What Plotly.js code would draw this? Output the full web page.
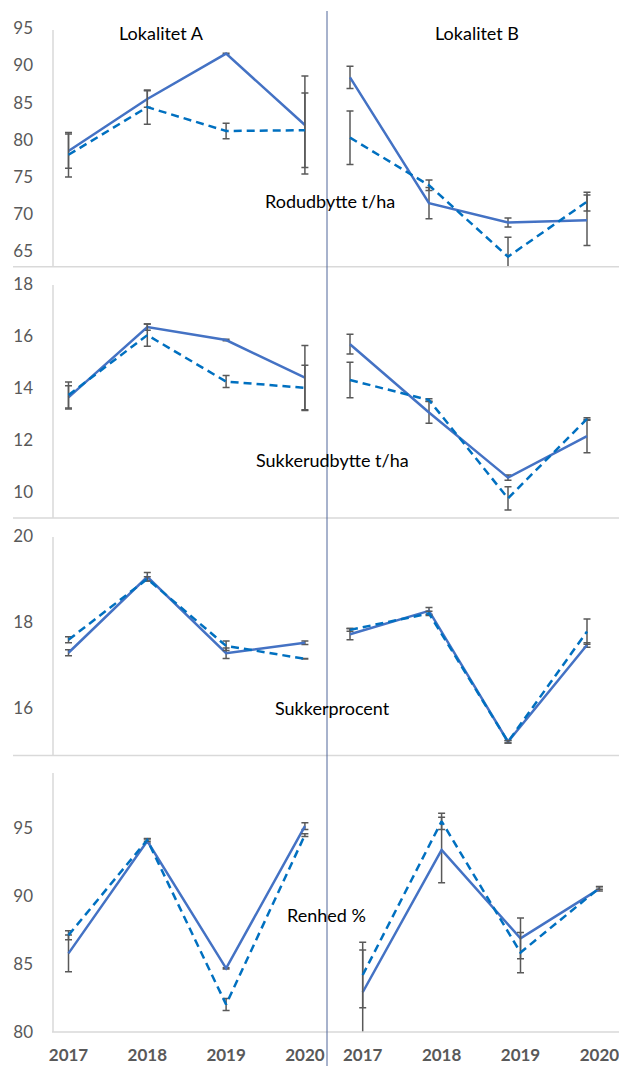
<!DOCTYPE html>
<html>
<head>
<meta charset="utf-8">
<script src="https://cdn.plot.ly/plotly-3.0.1.min.js"></script>
<style>html,body{margin:0;padding:0;background:#fff;}#chart{width:619px;height:1066px;}</style>
</head>
<body>
<div id="chart"></div>
<script>
// ---- data ----
const years = ['2017', '2018', '2019', '2020'];
const sites = ['Lokalitet A', 'Lokalitet B'];
const panelTitles = ['Rodudbytte t/ha', 'Sukkerudbytte t/ha', 'Sukkerprocent', 'Renhed %'];

// Rodudbytte t/ha
const rodA_solid = [78.5, 85.5, 91.6, 82.0];
const rodA_solidErr = [2.3, 1.1, 0.05, 6.6];
const rodA_dash = [78.0, 84.4, 81.2, 81.3];
const rodA_dashErr = [3.0, 2.3, 1.05, 5.0];
const rodB_solid = [88.4, 71.5, 68.9, 69.2];
const rodB_solidErr = [1.5, 2.1, 0.6, 3.4];
const rodB_dash = [80.3, 73.9, 64.3, 71.7];
const rodB_dashErr = [3.6, 0.7, 2.6, 1.25];

// Sukkerudbytte t/ha
const sukA_solid = [13.63, 16.34, 15.84, 14.39];
const sukA_solidErr = [0.45, 0.12, 0.03, 1.24];
const sukA_dash = [13.72, 16.03, 14.24, 14.0];
const sukA_dashErr = [0.5, 0.43, 0.23, 0.87];
const sukB_solid = [15.68, 13.05, 10.54, 12.14];
const sukB_solidErr = [0.38, 0.42, 0.1, 0.64];
const sukB_dash = [14.3, 13.53, 9.74, 12.8];
const sukB_dashErr = [0.68, 0.05, 0.45, 0.05];

// Sukkerprocent
const pctA_solid = [17.29, 19.05, 17.28, 17.52];
const pctA_solidErr = [0.07, 0.1, 0.12, 0.04];
const pctA_dash = [17.59, 19.0, 17.45, 17.15];
const pctA_dashErr = [0.07, 0.05, 0.11, 0.005];
const pctB_solid = [17.72, 18.26, 15.23, 17.47];
const pctB_solidErr = [0.13, 0.08, 0.03, 0.05];
const pctB_dash = [17.82, 18.2, 15.23, 17.78];
const pctB_dashErr = [0.03, 0.05, 0.03, 0.29];

// Renhed %
const renA_solid = [85.76, 94.02, 84.66, 95.12];
const renA_solidErr = [1.35, 0.15, 0.05, 0.25];
const renA_dash = [87.1, 94.1, 82.0, 94.46];
const renA_dashErr = [0.33, 0.1, 0.45, 0.1];
const renB_solid = [82.9, 93.36, 86.86, 90.5];
const renB_solidErr = [3.1, 2.4, 1.5, 0.15];
const renB_dash = [84.17, 95.47, 85.82, 90.57];
const renB_dashErr = [2.4, 0.6, 1.48, 0.1];

const yTicks = [[65, 70, 75, 80, 85, 90, 95], [10, 12, 14, 16, 18], [16, 18, 20], [80, 85, 90, 95]];

// ---- layout helpers ----
const W = 619, H = 1066;
const xIdx = [0, 1, 2, 3];
const SOLID = '#4472C4', DASH = '#0070C0', ERR = '#595959', GRID = '#d9d9d9';

// panel pixel geometry: [top, bottom, calibration value, calibration y px, px per unit]
const panels = [
  {top: 20, bottom: 266.7, v0: 95, y0: 28.3, ppu: 7.44},
  {top: 270, bottom: 517, v0: 18, y0: 284, ppu: 25.95},
  {top: 520, bottom: 755, v0: 20, y0: 535.7, ppu: 43.2},
  {top: 760, bottom: 1032, v0: 95, y0: 827.7, ppu: 13.6}
];
function yRange(p) {
  return [p.v0 - (p.bottom - p.y0) / p.ppu, p.v0 - (p.top - p.y0) / p.ppu];
}
function xRange(left, right, x0, step) {
  return [(left - x0) / step, (right - x0) / step];
}

const series = [
  [[rodA_solid, rodA_solidErr, rodA_dash, rodA_dashErr], [rodB_solid, rodB_solidErr, rodB_dash, rodB_dashErr]],
  [[sukA_solid, sukA_solidErr, sukA_dash, sukA_dashErr], [sukB_solid, sukB_solidErr, sukB_dash, sukB_dashErr]],
  [[pctA_solid, pctA_solidErr, pctA_dash, pctA_dashErr], [pctB_solid, pctB_solidErr, pctB_dash, pctB_dashErr]],
  [[renA_solid, renA_solidErr, renA_dash, renA_dashErr], [renB_solid, renB_solidErr, renB_dash, renB_dashErr]]
];

const traces = [];
const layout = {
  width: W, height: H,
  margin: {l: 0, r: 0, t: 0, b: 0},
  paper_bgcolor: '#fff', plot_bgcolor: 'rgba(0,0,0,0)',
  showlegend: false,
  font: {family: 'Lato, "Open Sans", sans-serif', color: '#000'},
  shapes: [], annotations: []
};

let n = 0;
panels.forEach((p, pi) => {
  [0, 1].forEach(si => {
    n++;
    const xa = 'x' + (n === 1 ? '' : n), ya = 'y' + (n === 1 ? '' : n);
    const xk = 'xaxis' + (n === 1 ? '' : n), yk = 'yaxis' + (n === 1 ? '' : n);
    let xr, dom;
    if (si === 0) { dom = [53, 327]; xr = xRange(53, 327, 68.5, 78.8); }
    else if (pi < 3) { dom = [327, 619]; xr = xRange(327, 619, 350, 79); }
    else { dom = [327, 619]; xr = xRange(327, 619, 362.7, 78.9); }
    const bottomPanel = pi === 3;
    layout[xk] = {
      domain: [dom[0] / W, dom[1] / W], range: xr, anchor: ya,
      showgrid: false, zeroline: false, showline: false,
      tickvals: xIdx, ticktext: years, ticks: '', ticklen: 0,
      showticklabels: bottomPanel, ticklabelstandoff: 11,
      ticklabeloverflow: 'allow',
      tickfont: {family: 'Lato, sans-serif', size: 17, color: '#595959', weight: 'bold'},
      fixedrange: true
    };
    layout[yk] = {
      domain: [1 - p.bottom / H, 1 - p.top / H], range: yRange(p), anchor: xa,
      showgrid: false, zeroline: false, showline: false,
      tickvals: yTicks[pi], ticks: '', showticklabels: si === 0,
      ticklabelstandoff: 19,
      tickfont: {family: 'Lato, sans-serif', size: 17, color: '#595959'},
      fixedrange: true
    };
    const d = series[pi][si];
    traces.push({
      x: xIdx, y: d[0], xaxis: xa, yaxis: ya, type: 'scatter', mode: 'lines',
      line: {color: SOLID, width: 2.5},
      error_y: {type: 'data', array: d[1], visible: true, color: ERR, thickness: 1.5, width: 3.5},
      hoverinfo: 'skip'
    });
    traces.push({
      x: xIdx, y: d[2], xaxis: xa, yaxis: ya, type: 'scatter', mode: 'lines',
      line: {color: DASH, width: 2.5, dash: '8px,5px'},
      error_y: {type: 'data', array: d[3], visible: true, color: ERR, thickness: 1.5, width: 3.5},
      hoverinfo: 'skip'
    });
  });
});

// frame lines (light gray axis lines from the pasted Excel charts)
const hLines = [[13, 619, 266.7], [13, 619, 518], [13, 619, 755.5], [52, 619, 1032]];
hLines.forEach(l => layout.shapes.push({type: 'line', xref: 'paper', yref: 'paper',
  x0: l[0] / W, x1: l[1] / W, y0: 1 - l[2] / H, y1: 1 - l[2] / H, line: {color: GRID, width: 1.5}}));
const vLines = [[30, 266.7], [285, 518], [537, 755.5], [773, 1032]];
vLines.forEach(l => layout.shapes.push({type: 'line', xref: 'paper', yref: 'paper',
  x0: 53 / W, x1: 53 / W, y0: 1 - l[0] / H, y1: 1 - l[1] / H, line: {color: GRID, width: 1.5}}));
// divider between the localities
layout.shapes.push({type: 'line', xref: 'paper', yref: 'paper',
  x0: 327 / W, x1: 327 / W, y0: 1 - 11 / H, y1: 0, line: {color: '#50679a', width: 1}});

// text
layout.annotations.push({text: sites[0], xref: 'paper', yref: 'paper', x: 161 / W, y: 1 - 33 / H,
  showarrow: false, xanchor: 'center', yanchor: 'middle', font: {size: 18, color: '#000'}});
layout.annotations.push({text: sites[1], xref: 'paper', yref: 'paper', x: 477 / W, y: 1 - 33 / H,
  showarrow: false, xanchor: 'center', yanchor: 'middle', font: {size: 18, color: '#000'}});
const titlePos = [[330, 201], [333, 460], [332, 708], [326, 915]];
panelTitles.forEach((t, i) => layout.annotations.push({text: t, xref: 'paper', yref: 'paper',
  x: titlePos[i][0] / W, y: 1 - titlePos[i][1] / H, showarrow: false, xanchor: 'center', yanchor: 'middle',
  font: {size: 18, color: '#000'}}));

Plotly.newPlot('chart', traces, layout, {staticPlot: true, displayModeBar: false});
</script>
</body>
</html>
